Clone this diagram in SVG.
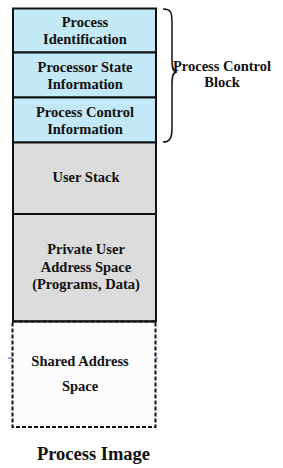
<svg xmlns="http://www.w3.org/2000/svg" width="283" height="468" viewBox="0 0 283 468">
<style>
.t{font-family:"Liberation Serif","Times New Roman",serif;font-weight:bold;font-size:14.5px;fill:#111;text-anchor:middle}
.pcb{fill:#c3e8f6;stroke:#111;stroke-width:2}
.usr{fill:#dcdcdc;stroke:#111;stroke-width:2}
</style>
<rect x="0" y="0" width="283" height="468" fill="#fff"/>
<g id="process-identification">
<rect class="pcb" x="13" y="8.5" width="143" height="44"/>
<text class="t" x="85" y="26.5">Process</text>
<text class="t" x="85" y="43.5">Identification</text>
</g>
<g id="processor-state">
<rect class="pcb" x="13" y="52.5" width="143" height="45"/>
<text class="t" x="85" y="72">Processor State</text>
<text class="t" x="85" y="88.5">Information</text>
</g>
<g id="process-control">
<rect class="pcb" x="13" y="97.5" width="143" height="45"/>
<text class="t" x="85" y="117">Process Control</text>
<text class="t" x="85" y="133.5">Information</text>
</g>
<g id="user-stack">
<rect class="usr" x="13" y="142.5" width="143" height="71.5"/>
<text class="t" x="86" y="181.5">User Stack</text>
</g>
<g id="private-user">
<rect class="usr" x="13" y="214" width="143" height="107.5"/>
<text class="t" x="86" y="253.5">Private User</text>
<text class="t" x="86" y="271.5">Address Space</text>
<text class="t" x="86" y="288.5">(Programs, Data)</text>
</g>
<g id="shared-address">
<rect x="12.5" y="321.5" width="143" height="105.5" fill="#fcfcfc" stroke="#111" stroke-width="2" stroke-dasharray="4,2"/>
<line x1="13" y1="321.5" x2="156" y2="321.5" stroke="#111" stroke-width="2"/>
<line x1="8" y1="358" x2="12" y2="358" stroke="#3344cc" stroke-width="1"/>
<line x1="156" y1="358" x2="158" y2="358" stroke="#3344cc" stroke-width="1"/>
<text class="t" x="80" y="365.5">Shared Address</text>
<text class="t" x="80" y="391">Space</text>
</g>
<g id="connectors">
<path d="M163,9 C172,9 172,14 172,24 L172,60 C172,68 173,72 177,72 C173,72 172,76 172,84 L172,128 C172,138 170,142 163,142" fill="none" stroke="#111" stroke-width="1.5"/>
</g>
<g id="pcb-label">
<text class="t" x="222" y="70.5">Process Control</text>
<text class="t" x="222" y="86.5">Block</text>
</g>
<g id="title">
<text class="t" x="93.5" y="459.5" style="font-size:18.5px">Process Image</text>
</g>
</svg>
